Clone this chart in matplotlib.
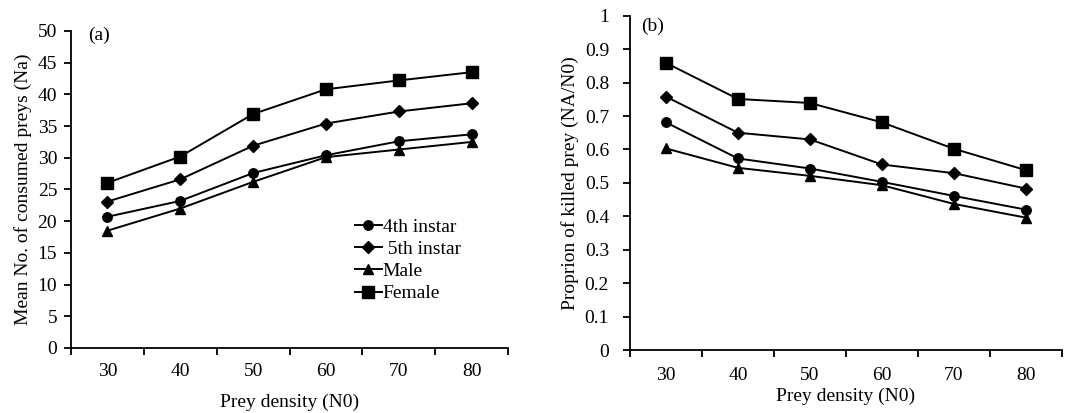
import matplotlib
matplotlib.use("Agg")
import matplotlib.pyplot as plt
import numpy as np

plt.rcParams['font.family'] = ['Liberation Serif', 'DejaVu Serif']

densities = ["30", "40", "50", "60", "70", "80"]
series_names = ["4th instar", " 5th instar", "Male", "Female"]

consumed_4th = [20.7, 23.2, 27.6, 30.4, 32.6, 33.7]
consumed_5th = [23.1, 26.6, 31.9, 35.4, 37.3, 38.6]
consumed_male = [18.5, 22.0, 26.2, 30.1, 31.3, 32.5]
consumed_female = [26.05, 30.2, 36.9, 40.8, 42.2, 43.5]

prop_4th = [0.681, 0.573, 0.543, 0.503, 0.461, 0.420]
prop_5th = [0.758, 0.650, 0.630, 0.555, 0.529, 0.483]
prop_male = [0.603, 0.545, 0.521, 0.493, 0.437, 0.396]
prop_female = [0.859, 0.751, 0.739, 0.681, 0.602, 0.538]

markers = ["o", "D", "^", "s"]
msizes = [6.8, 6.2, 7.4, 9.0]

fig = plt.figure(figsize=(10.65, 4.13), dpi=100)
axa = fig.add_axes([0.0667, 0.1574, 0.4103, 0.7676])
axb = fig.add_axes([0.5915, 0.1525, 0.4056, 0.8094])

FS = 14

def style(ax, ylim, yticks, ylabel, xlabel, ypad, xlabelpad, xtickpad):
    x = np.arange(len(densities))
    ax.set_xlim(-0.5, len(densities) - 0.5)
    ax.set_ylim(*ylim)
    ax.spines['top'].set_visible(False)
    ax.spines['right'].set_visible(False)
    ax.spines['left'].set_linewidth(1.3)
    ax.spines['bottom'].set_linewidth(1.3)
    ax.set_xticks(np.arange(-0.5, len(densities)), minor=False)
    ax.set_xticklabels([])
    ax.set_xticks(x, minor=True)
    ax.set_xticklabels(densities, minor=True)
    ax.tick_params(axis='x', which='major', direction='out', length=5, width=1.3)
    ax.tick_params(axis='x', which='minor', length=0, pad=xtickpad, labelsize=FS)
    ax.set_yticks(yticks)
    ax.tick_params(axis='y', direction='out', length=5, width=1.3, pad=ypad, labelsize=FS)
    ax.set_ylabel(ylabel, fontsize=FS)
    ax.set_xlabel(xlabel, fontsize=FS, labelpad=xlabelpad)

x = np.arange(len(densities))
for vals, m, ms, name in zip([consumed_4th, consumed_5th, consumed_male, consumed_female],
                             markers, msizes, series_names):
    axa.plot(x, vals, color='black', lw=1.4, marker=m, markersize=ms, label=name)

style(axa, (0, 50), np.arange(0, 51, 5), "Mean No. of consumed preys (Na)", "Prey density (N0)", 5, 10, 11)
axa.set_yticklabels([f"{v:g}" for v in np.arange(0, 51, 5)])
axa.text(0.04, 1.015, "(a)", transform=axa.transAxes, fontsize=FS, va='top', ha='left')
axa.legend(loc='upper left', bbox_to_anchor=(0.649, 0.41), frameon=False, fontsize=FS,
           handlelength=1.4, handletextpad=0.05, labelspacing=0.24, borderpad=0,
           borderaxespad=0)

for vals, m, ms in zip([prop_4th, prop_5th, prop_male, prop_female], markers, msizes):
    axb.plot(x, vals, color='black', lw=1.4, marker=m, markersize=ms)

style(axb, (0, 1), np.arange(0, 1.01, 0.1), "Proprion of killed prey (NA/N0)", "Prey density (N0)", 10, 3, 12)
axb.set_yticklabels([f"{v:g}" for v in np.round(np.arange(0, 1.01, 0.1), 1)])
axb.text(0.027, 0.995, "(b)", transform=axb.transAxes, fontsize=FS, va='top', ha='left')

fig.savefig("out.png", dpi=100)
